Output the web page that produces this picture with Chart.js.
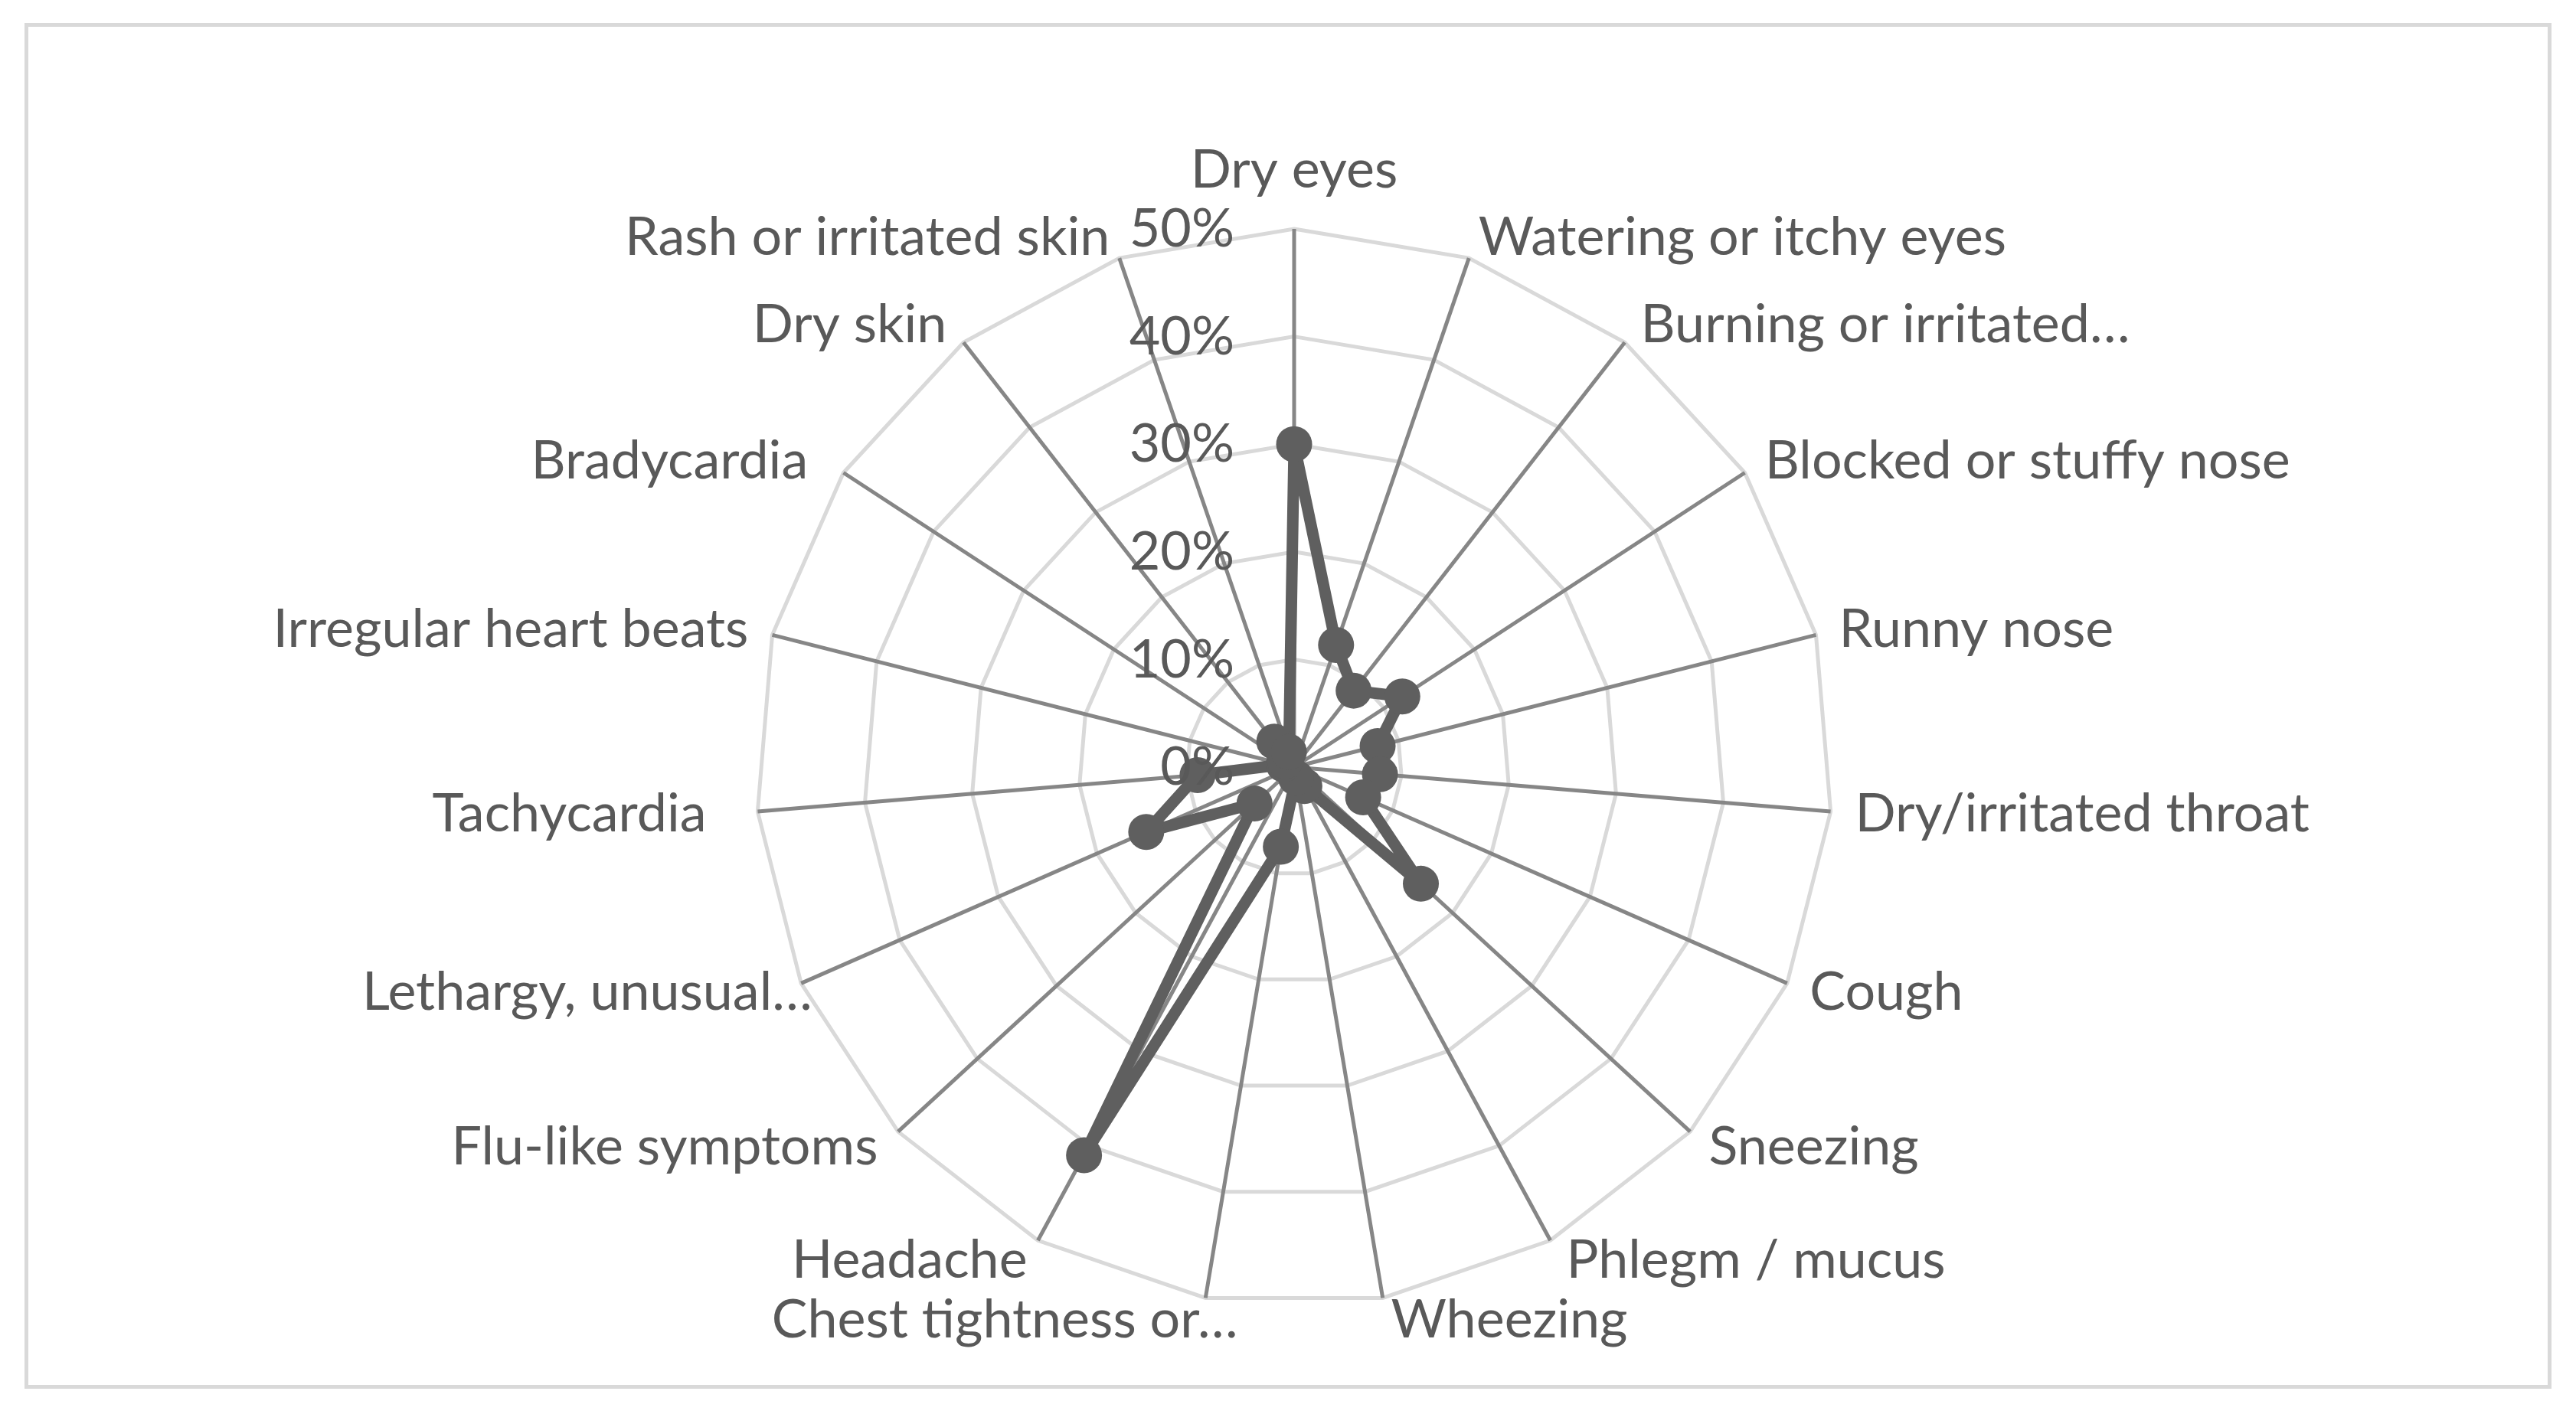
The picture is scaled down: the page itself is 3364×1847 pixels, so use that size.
<!DOCTYPE html>
<html>
<head>
<meta charset="utf-8">
<script src="https://cdn.jsdelivr.net/npm/chart.js@4.4.1/dist/chart.umd.min.js"></script>
<style>
html, body { margin: 0; padding: 0; background: #ffffff; overflow: hidden; }
#frame {
position: absolute; left: 32px; top: 30px; width: 3300px; height: 1784px;
border: 5px solid #d9d9d9; box-sizing: border-box;
}
#wrap { position: absolute; left: 0; top: 0; width: 3364px; height: 1847px; }
</style>
</head>
<body>
<div id="frame"></div>
<div id="wrap"><canvas id="radar"></canvas></div>
<script>
// symptoms, clockwise from the top
const symptoms = [
"Dry eyes", "Watering or itchy eyes", "Burning or irritated…", "Blocked or stuffy nose",
"Runny nose", "Dry/irritated throat", "Cough", "Sneezing", "Phlegm / mucus", "Wheezing",
"Chest tightness or…", "Headache", "Flu-like symptoms", "Lethargy, unusual…",
"Tachycardia", "Irregular heart beats", "Bradycardia", "Dry skin", "Rash or irritated skin"
];
// share of respondents, percent
const shares = [30, 12, 9, 12, 8, 8, 7, 16, 2, 1, 7.5, 41, 5, 15, 9, 1, 1, 3, 1.5];
const tickValues = [0, 10, 20, 30, 40, 50];
const tickLabels = ["0%", "10%", "20%", "30%", "40%", "50%"];

const textGrey = "#595959";
const fontSize = 70;
const font = fontSize + "px Lato, 'Open Sans', sans-serif";
// small sideways shifts so the category names sit where Excel put them
const labelNudge = [0, 3, 3, 2, 2, 3, 3, 3, 7, 6, 47, 0, -5, 41, -38, -3, -22, -4, -3];
const labelPad = 29;

// category names and percent labels drawn by hand, Excel style
const labelsPlugin = {
id: "labelsPlugin",
afterDatasetsDraw(chart) {
const r = chart.scales.r;
const ctx = chart.ctx;
const capHalf = fontSize * 0.33;
ctx.save();
ctx.font = font;
ctx.fillStyle = textGrey;
ctx.textBaseline = "alphabetic";

ctx.textAlign = "right";
tickValues.forEach((v, i) => {
const y = r.yCenter - r.getDistanceFromCenterForValue(v);
ctx.fillText(tickLabels[i], r.xCenter - 78, y + capHalf);
});

symptoms.forEach((name, i) => {
const pos = r.getPointPosition(i, r.drawingArea + labelPad);
const dx = pos.x - r.xCenter;
let y = pos.y + capHalf;
if (Math.abs(dx) < 1) {
ctx.textAlign = "center";
y = r.yCenter - r.drawingArea - 54;
} else {
ctx.textAlign = dx > 0 ? "left" : "right";
}
ctx.fillText(name, pos.x + labelNudge[i], y);
});
ctx.restore();
}
};

new Chart(document.getElementById("radar"), {
type: "radar",
data: {
labels: symptoms,
datasets: [{
data: shares,
borderColor: "#5f5f5f",
backgroundColor: "rgba(0,0,0,0)",
borderWidth: 15,
borderJoinStyle: "round",
fill: false,
pointRadius: 23.5,
pointBackgroundColor: "#5f5f5f",
pointBorderWidth: 0
}]
},
options: {
responsive: true,
maintainAspectRatio: false,
animation: false,
layout: { padding: { left: 987, right: 971, top: 299, bottom: 142 } },
plugins: { legend: { display: false }, tooltip: { enabled: false } },
scales: {
r: {
min: 0,
max: 50,
ticks: { stepSize: 10, display: false },
grid: { color: "#d9d9d9", lineWidth: 5 },
angleLines: { color: "#868686", lineWidth: 5 },
pointLabels: { display: false }
}
}
},
plugins: [labelsPlugin]
});
</script>
</body>
</html>
